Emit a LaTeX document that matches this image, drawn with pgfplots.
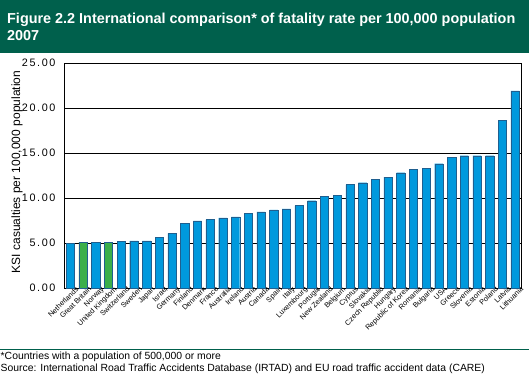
\documentclass[border=0pt]{standalone}
\usepackage{fontspec}
\setmainfont{Liberation Sans}
\newfontfamily\ticksfont[LetterSpace=15]{Liberation Sans}
\usepackage{pgfplots}
\pgfplotsset{compat=1.18}
\definecolor{band}{HTML}{00604C}
\definecolor{barblue}{HTML}{0099DD}
\definecolor{bargreen}{HTML}{3BAF4A}
\definecolor{baredge}{HTML}{1F5F8F}
\begin{document}
\begin{tikzpicture}
\path[use as bounding box] (0,0) rectangle (529bp,-377bp);
\fill[band] (0,0) rectangle (529bp,-53bp);
\node[anchor=north west, text=white, font=\bfseries\fontsize{14.4bp}{17bp}\selectfont, align=left, inner sep=0] at (7bp,-12.5bp) {Figure 2.2 International comparison* of fatality rate per 100,000 population\\2007};
\draw[band, line width=1bp] (0,-349bp) -- (529bp,-349bp);
\node[anchor=north west, font=\fontsize{10.4bp}{12bp}\selectfont, align=left, inner sep=0] at (0.5bp,-352bp) {*Countries with a population of 500,000 or more\\Source: International Road Traffic Accidents Database (IRTAD) and EU road traffic accident data (CARE)};
\node[rotate=90, anchor=center, inner sep=0, font=\fontsize{12bp}{14bp}\selectfont] at (17bp,-172bp) {KSI casualties per 100,000 population};
\begin{axis}[
  at={(64bp,-288bp)}, anchor=south west, scale only axis,
  width=457.5bp, height=225bp,
  xmin=-0.5, xmax=35.5, ymin=0, ymax=25,
  ytick={0,5,...,25}, xtick={0,...,35},
  xticklabels={Netherlands,Great Britain,Norway,United Kingdom,Switzerland,Sweden,Japan,Israel,Germany,Finland,Denmark,France,Australia,Ireland,Austria,Canada,Spain,Italy,Luxembourg,Portugal,New Zealand,Belgium,Cyprus,Slovakia,Czech Republic,Hungary,Republic of Korea,Romania,Bulgaria,USA,Greece,Slovenia,Estonia,Poland,Latvia,Lithuania},
  xticklabel style={rotate=45, anchor=north east, font=\fontsize{7.3bp}{8bp}\selectfont, inner sep=0pt, xshift=5bp, yshift=-2bp},
  yticklabel style={font=\ticksfont\fontsize{10.8bp}{12bp}\selectfont, xshift=-5bp},
  /pgf/number format/.cd, fixed, fixed zerofill, precision=2, assume math mode=true,
  /pgfplots/.cd,
  ymajorgrids, grid style={black, line width=0.8bp},
  axis line style={black, line width=0.8bp},
  major tick length=0,
]
\addplot[ybar, bar width=8.3bp, bar shift=0pt, fill=barblue, draw=baredge, line width=0.4bp] table {
x y
0 4.93
2 5.10
4 5.15
5 5.25
6 5.25
7 5.60
8 6.07
9 7.20
10 7.45
11 7.60
12 7.80
13 7.90
14 8.30
15 8.45
16 8.67
17 8.78
18 9.15
19 9.70
20 10.15
21 10.26
22 11.48
23 11.70
24 12.04
25 12.33
26 12.81
27 13.15
28 13.26
29 13.81
30 14.52
31 14.70
32 14.70
33 14.70
34 18.60
35 21.90
};
\addplot[ybar, bar width=8.3bp, bar shift=0pt, fill=bargreen, draw=baredge, line width=0.4bp] table {
x y
1 5.10
3 5.10
};
\end{axis}
\end{tikzpicture}
\end{document}
